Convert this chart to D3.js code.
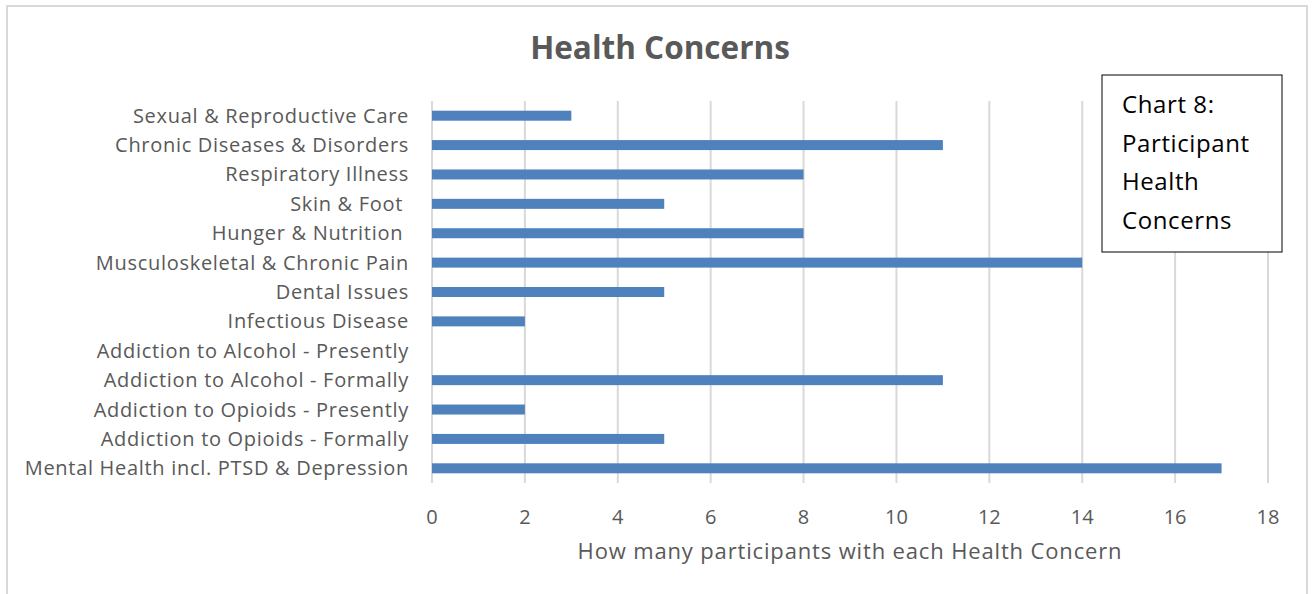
<!DOCTYPE html>
<html>
<head>
<meta charset="utf-8">
<script src="https://cdn.jsdelivr.net/npm/d3@7"></script>
<style>
  body { margin: 0; background: #fff; }
  text { font-family: "Open Sans", Lato, sans-serif; }
</style>
</head>
<body>
<svg id="chart" width="1312" height="594"></svg>
<script>
// categories top to bottom, as in the picture
var categories = [
  "Sexual & Reproductive Care",
  "Chronic Diseases & Disorders",
  "Respiratory Illness",
  "Skin & Foot ",
  "Hunger & Nutrition ",
  "Musculoskeletal & Chronic Pain",
  "Dental Issues",
  "Infectious Disease",
  "Addiction to Alcohol - Presently",
  "Addiction to Alcohol - Formally",
  "Addiction to Opioids - Presently",
  "Addiction to Opioids - Formally",
  "Mental Health incl. PTSD & Depression"
];
var counts = [3, 11, 8, 5, 8, 14, 5, 2, 0, 11, 2, 5, 17];
var xTicks = [0, 2, 4, 6, 8, 10, 12, 14, 16, 18];
var boxLines = ["Chart 8:", "Participant", "Health", "Concerns"];

var svg = d3.select("#chart");
var textCol = "#595959";

// outer chart border
svg.append("rect")
  .attr("x", 7).attr("y", 6)
  .attr("width", 1300).attr("height", 600)
  .attr("fill", "#fff")
  .attr("stroke", "#d9d9d9")
  .attr("stroke-width", 2);

var plotL = 432, plotR = 1268, plotT = 101, plotB = 483;

var x = d3.scaleLinear().domain([0, 18]).range([plotL, plotR]);
var y = d3.scaleBand().domain(categories).range([plotT, plotB]).paddingInner(0.66).paddingOuter(0.33);

// grid
svg.append("g").selectAll("line")
  .data(xTicks)
  .enter().append("line")
    .attr("x1", function(d) { return x(d); })
    .attr("x2", function(d) { return x(d); })
    .attr("y1", plotT).attr("y2", plotB)
    .attr("stroke", "#d9d9d9")
    .attr("stroke-width", 2);

// bars
svg.append("g").selectAll("rect")
  .data(categories)
  .enter().append("rect")
    .attr("x", x(0))
    .attr("y", function(d) { return y(d); })
    .attr("width", function(d, i) { return x(counts[i]) - x(0); })
    .attr("height", y.bandwidth())
    .attr("fill", "#4f81bd");

// category labels
svg.append("g").selectAll("text")
  .data(categories)
  .enter().append("text")
    .attr("x", 409)
    .attr("y", function(d) { return y(d) + y.bandwidth() / 2; })
    .attr("dy", "0.35em")
    .attr("text-anchor", "end")
    .attr("fill", textCol)
    .style("font-size", "20px")
    .style("letter-spacing", "0.7px")
    .style("white-space", "pre")
    .text(function(d) { return d; });

// tick labels
svg.append("g").selectAll("text")
  .data(xTicks)
  .enter().append("text")
    .attr("x", function(d) { return x(d); })
    .attr("y", 524)
    .attr("text-anchor", "middle")
    .attr("fill", textCol)
    .style("font-size", "20px")
    .text(function(d) { return d; });

// axis title
svg.append("text")
  .attr("x", (plotL + plotR) / 2)
  .attr("y", 559)
  .attr("text-anchor", "middle")
  .attr("fill", textCol)
  .style("font-size", "22px")
  .style("letter-spacing", "0.85px")
  .text("How many participants with each Health Concern");

// chart title
svg.append("text")
  .attr("x", 660)
  .attr("y", 59)
  .attr("text-anchor", "middle")
  .attr("fill", textCol)
  .style("font-size", "31.5px")
  .style("font-weight", "bold")
  .text("Health Concerns");

// text box
svg.append("rect")
  .attr("x", 1102).attr("y", 75)
  .attr("width", 180).attr("height", 177)
  .attr("fill", "#fff")
  .attr("stroke", "#000")
  .attr("stroke-width", 1);

svg.append("g").selectAll("text")
  .data(boxLines)
  .enter().append("text")
    .attr("x", 1122)
    .attr("y", function(d, i) { return 113 + i * 38.7; })
    .attr("fill", "#000")
    .style("font-size", "24px")
    .style("letter-spacing", "0.6px")
    .text(function(d) { return d; });
</script>
</body>
</html>
